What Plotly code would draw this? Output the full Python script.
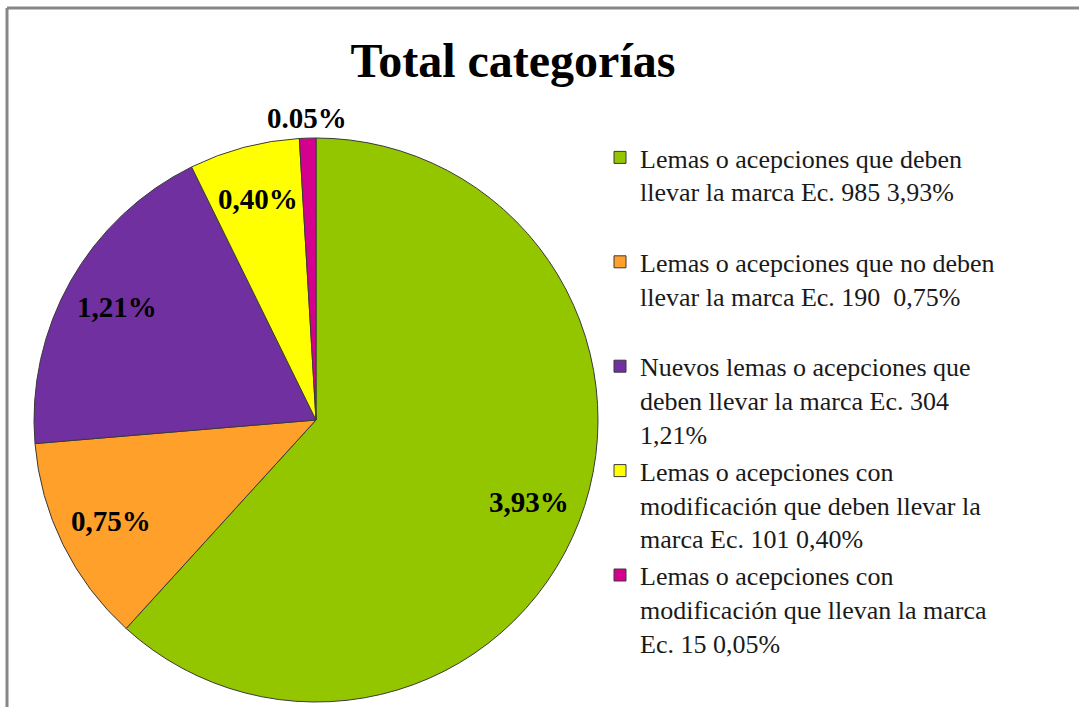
import numpy as np
import plotly.graph_objects as go

categories = [
    "Lemas o acepciones que deben<br>llevar la marca Ec. 985 3,93%<br> ",
    "Lemas o acepciones que no deben<br>llevar la marca Ec. 190  0,75%<br> ",
    "Nuevos lemas o acepciones que<br>deben llevar la marca Ec. 304<br>1,21%",
    "Lemas o acepciones con<br>modificación que deben llevar la<br>marca Ec. 101 0,40%",
    "Lemas o acepciones con<br>modificación que llevan la marca<br>Ec. 15 0,05%",
]
values = [985, 190, 304, 101, 15]
slice_labels = ["3,93%", "0,75%", "1,21%", "0,40%", "0.05%"]
label_outside = [False, False, False, False, True]
colors = ["#94C600", "#FFA02A", "#7030A0", "#FFFF00", "#D6008F"]

W, H = 1079, 707
SERIF = "Liberation Serif, Times New Roman, serif"

# pie geometry (pixels)
CX, CY, R = 316, 420, 282

fig = go.Figure(
    go.Pie(
        labels=categories,
        values=values,
        textinfo="none",
        marker=dict(colors=colors, line=dict(color="#3a3a3a", width=1)),
        sort=False,
        direction="clockwise",
        rotation=0,
        hoverinfo="label+value",
        domain=dict(x=[(CX - R) / W, (CX + R) / W], y=[1 - (CY + R) / H, 1 - (CY - R) / H]),
    )
)

# data labels placed along each slice's mid-angle
vals = np.array(values, dtype=float)
cum = np.cumsum(vals) / vals.sum()
mid = (cum - vals / vals.sum() / 2) * 2 * np.pi
annotations = []
for lab, ang, outside in zip(slice_labels, mid, label_outside):
    f = 1.07 if outside else 0.81
    annotations.append(dict(
        x=(CX + f * R * np.sin(ang)) / W,
        y=1 - (CY - f * R * np.cos(ang)) / H,
        xref="paper", yref="paper",
        text=lab, showarrow=False,
        xanchor="center", yanchor="middle",
        font=dict(family=SERIF, size=29, color="black", weight="bold"),
    ))

fig.update_layout(
    width=W,
    height=H,
    margin=dict(l=0, r=0, t=0, b=0),
    paper_bgcolor="white",
    plot_bgcolor="white",
    title=dict(
        text="Total categorías",
        x=513 / W,
        xanchor="center",
        y=1 - 60 / H,
        yanchor="middle",
        font=dict(family=SERIF, size=48, color="black", weight="bold"),
    ),
    legend=dict(
        x=600 / W,
        xanchor="left",
        y=1 - 134 / H,
        yanchor="top",
        font=dict(family=SERIF, size=26, color="#1a1a1a"),
        valign="top",
        itemwidth=30,
        bgcolor="rgba(0,0,0,0)",
    ),
    showlegend=True,
    annotations=annotations,
    shapes=[
        dict(type="line", xref="paper", yref="paper", x0=7 / W, x1=1, y0=1 - 8 / H, y1=1 - 8 / H,
             line=dict(color="#878787", width=3)),
        dict(type="line", xref="paper", yref="paper", x0=7 / W, x1=7 / W, y0=0, y1=1 - 8 / H,
             line=dict(color="#878787", width=3)),
    ],
)

fig.write_html(
    "out.html",
    config={"displayModeBar": False},
    post_script="document.body.style.margin='0';document.body.style.overflow='hidden';",
)
